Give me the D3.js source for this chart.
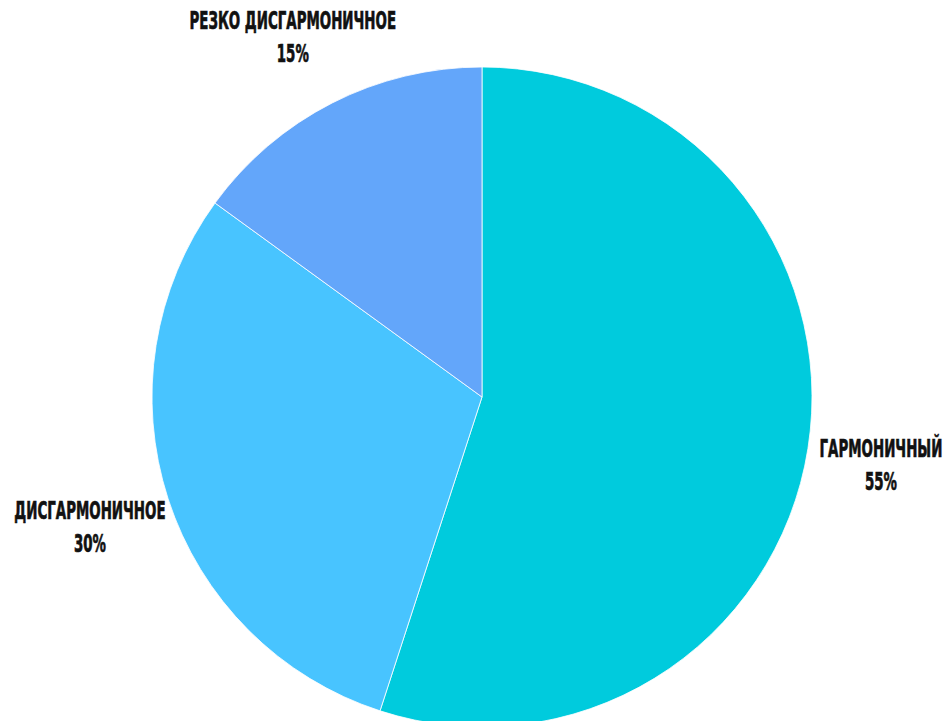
<!DOCTYPE html>
<html>
<head>
<meta charset="utf-8">
<script src="https://cdn.jsdelivr.net/npm/d3@7"></script>
<style>
  html, body { margin: 0; padding: 0; background: #ffffff; }
  svg { display: block; }
  .label { font-family: "DejaVu Sans Condensed", "DejaVu Sans", sans-serif; font-stretch: condensed; font-weight: bold; font-size: 25px; fill: #111111; stroke: #111111; stroke-width: 0.7px; }
</style>
</head>
<body>
<svg id="chart" width="943" height="721"></svg>
<script>
// Share of each body-build type (percent)
const categories = ["ГАРМОНИЧНЫЙ", "ДИСГАРМОНИЧНОЕ", "РЕЗКО ДИСГАРМОНИЧНОЕ"];
const values = [55, 30, 15];
const colors = ["#00CBDD", "#48C4FF", "#63A6FA"];

const width = 943, height = 721;
const cx = 482, cy = 397;
const radius = 330;
const labelRadius = 408;
const condense = 0.595;   // horizontal squeeze for a narrow display look

const svg = d3.select("#chart");
const g = svg.append("g").attr("transform", `translate(${cx},${cy})`);

const data = categories.map((c, i) => ({ name: c, value: values[i], color: colors[i] }));

const pie = d3.pie().value(d => d.value).sort(null).startAngle(0).endAngle(2 * Math.PI);
const arcs = pie(data);

const arc = d3.arc().innerRadius(0).outerRadius(radius);
const labelArc = d3.arc().innerRadius(labelRadius).outerRadius(labelRadius);

g.selectAll("path.slice")
  .data(arcs)
  .join("path")
  .attr("class", "slice")
  .attr("d", arc)
  .attr("fill", d => d.data.color)
  .attr("stroke", "#ffffff")
  .attr("stroke-width", 0.8);

const labels = g.selectAll("g.lbl")
  .data(arcs)
  .join("g")
  .attr("class", "lbl")
  .attr("transform", d => {
    const [x, y] = labelArc.centroid(d);
    return `translate(${x - 4},${y + 4}) scale(${condense},1)`;
  });

labels.append("text")
  .attr("class", "label")
  .attr("text-anchor", "middle")
  .attr("y", -8)
  .text(d => d.data.name);

labels.append("text")
  .attr("class", "label")
  .attr("text-anchor", "middle")
  .attr("y", 25)
  .text(d => d.data.value + "%");
</script>
</body>
</html>
